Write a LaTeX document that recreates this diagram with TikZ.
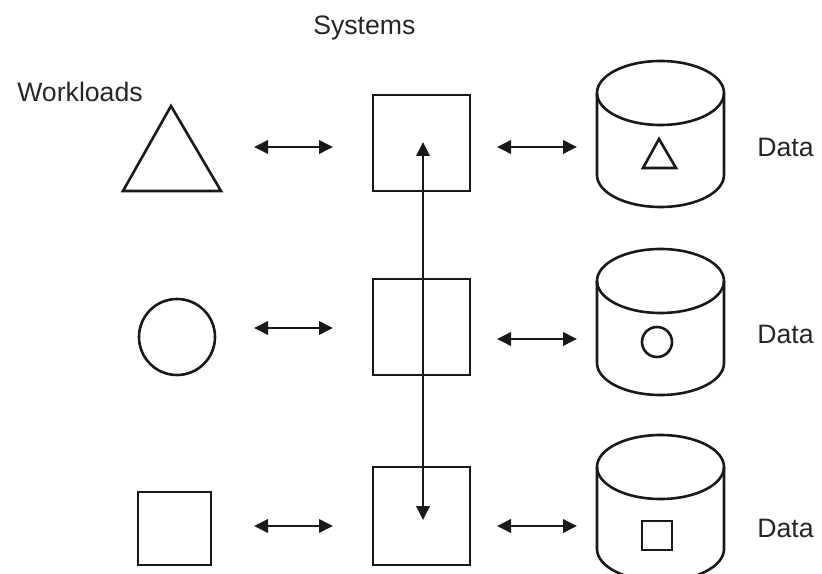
\documentclass[tikz,border=0pt]{standalone}
\usepackage{fontspec}
\setmainfont{Liberation Sans}
\usetikzlibrary{arrows.meta,shapes.geometric}
\tikzset{
  shp/.style={draw=black!90, line width=1.95pt, inner sep=0pt},
  sysbox/.style={shp, rectangle, minimum width=72.75pt, minimum height=72pt},
  dbl/.style={line width=1.9pt, draw=black!90, {Triangle[length=10.5pt,width=10pt]}-{Triangle[length=10.5pt,width=10pt]}},
  lbl/.style={font=\fontsize{20}{22}\selectfont, text=black!85, inner sep=0pt, anchor=base west},
}
\newcommand{\dbcyl}[2]{% #1 name, #2 top-centre y
  \draw[line width=1.95pt, draw=black!90] (660.5,#2) ellipse [x radius=63.5, y radius=32];
  \draw[line width=1.95pt, draw=black!90] (597,#2) -- (597,#2+82)
     arc [start angle=180, end angle=0, x radius=63.5, y radius=32] -- (724,#2);
  \coordinate (#1) at (660.5,#2+41);
}
\begin{document}
\begin{tikzpicture}[x=0.75pt,y=-0.75pt]
\useasboundingbox (0,0) rectangle (822,574);

% labels
\node[lbl] (tsys) at (313,35) {Systems};
\node[lbl] (twork) at (17,102) {Workloads};
\node[lbl] (td1) at (757,157) {Data};
\node[lbl] (td2) at (757,344) {Data};
\node[lbl] (td3) at (757,537) {Data};

% workloads
\draw[shp, line join=miter] (171,106) -- (221,191) -- (123,191) -- cycle;
\coordinate (w1) at (172,162);
\node[shp, circle, minimum size=57pt] (w2) at (177,337) {};
\node[shp, rectangle, minimum width=54.75pt, minimum height=54.75pt] (w3) at (174.5,528.5) {};

% systems
\node[sysbox] (s1) at (421.5,143) {};
\node[sysbox] (s2) at (421.5,327) {};
\node[sysbox, minimum height=73.5pt] (s3) at (421.5,516) {};

% data cylinders
\dbcyl{d1}{93}
\dbcyl{d2}{281}
\dbcyl{d3}{467}

% symbols inside cylinders
\draw[shp, line join=miter] (659,139) -- (676,168) -- (643,168) -- cycle;
\node[shp, circle, minimum size=22.5pt] (c2) at (657,342) {};
\node[shp, rectangle, minimum width=22.5pt, minimum height=21.75pt] (c3) at (657,535.5) {};

% arrow end coordinates
\coordinate (a1l) at (254,147); \coordinate (a1r) at (333,147);
\coordinate (b1l) at (497,147); \coordinate (b1r) at (577,147);
\coordinate (a2l) at (254,328); \coordinate (a2r) at (333,328);
\coordinate (b2l) at (497,339); \coordinate (b2r) at (577,339);
\coordinate (a3l) at (254,526); \coordinate (a3r) at (333,526);
\coordinate (b3l) at (497,526); \coordinate (b3r) at (577,526);
\coordinate (vtop) at (423,142); \coordinate (vbot) at (423,520);

\draw[dbl] (a1l) -- (a1r);
\draw[dbl] (b1l) -- (b1r);
\draw[dbl] (a2l) -- (a2r);
\draw[dbl] (b2l) -- (b2r);
\draw[dbl] (a3l) -- (a3r);
\draw[dbl] (b3l) -- (b3r);
\draw[dbl] (vtop) -- (vbot);
\end{tikzpicture}
\end{document}
